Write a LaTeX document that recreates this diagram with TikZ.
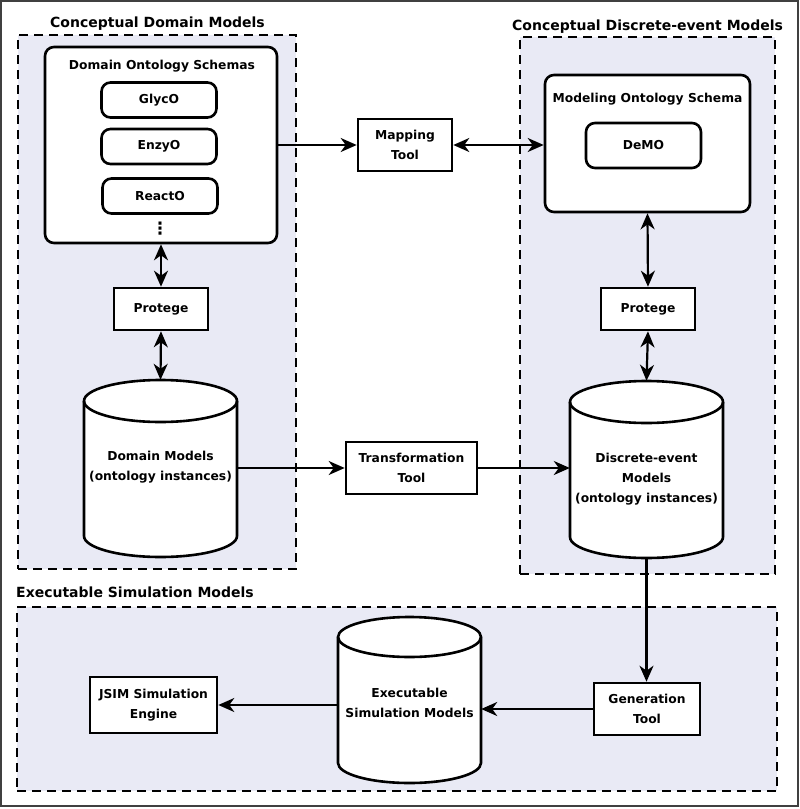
\documentclass[tikz,border=0pt]{standalone}
\usepackage{fontspec}
\setmainfont{DejaVu Sans}
\usetikzlibrary{arrows.meta}
\definecolor{panel}{RGB}{233,234,245}
\begin{document}
\begin{tikzpicture}[x=1pt,y=-1pt,
 panelbox/.style={draw=black, fill=panel, line width=2.4pt, dash pattern=on 9pt off 6pt, inner sep=0pt},
 title/.style={font=\fontsize{14}{16}\selectfont\bfseries, anchor=base west, inner sep=0pt},
 rbox/.style={draw=black, fill=white, line width=2.6pt, rounded corners=9pt, inner sep=0pt, font=\fontsize{12.3}{20}\selectfont\bfseries},
 sbox/.style={draw=black, fill=white, line width=2.6pt, inner sep=0pt, align=center, font=\fontsize{12.3}{20}\selectfont\bfseries},
 lbl/.style={align=center, font=\fontsize{12.3}{20}\selectfont\bfseries, inner sep=0pt},
 cylbody/.style={inner sep=0pt, draw=none},
 cylline/.style={draw=black, fill=white, line width=2.6pt},
 tip/.tip={Stealth[length=16pt,width=14pt,inset=5pt]},
 conn/.style={line width=2.2pt, -tip},
 biconn/.style={line width=2.2pt, tip-tip},
]
\path[use as bounding box] (0,0) rectangle (800,809);
\fill[white] (0,0) rectangle (800,809);
\draw[line width=1.5pt, black!75] (1,1) rectangle (798,806);

% panels
\node[panelbox, minimum width=278pt, minimum height=534pt] (cdm) at (157,302) {};
\node[panelbox, minimum width=255pt, minimum height=537pt] (cdem) at (647.5,305.5) {};
\node[panelbox, minimum width=760pt, minimum height=184pt] (esm) at (397,699) {};
\node[title] (t1) at (50,27) {Conceptual Domain Models};
\node[title] (t2) at (512,30) {Conceptual Discrete-event Models};
\node[title] (t3) at (16,597) {Executable Simulation Models};

% domain ontology schemas
\node[rbox, minimum width=232pt, minimum height=196pt] (dos) at (161,145) {};
\node[lbl] (dostitle) at (162,66) {Domain Ontology Schemas};
\node[rbox, minimum width=115pt, minimum height=35pt] (glyco) at (159,100) {GlycO};
\node[rbox, minimum width=115pt, minimum height=35pt] (enzyo) at (159,146.5) {EnzyO};
\node[rbox, minimum width=115pt, minimum height=35pt] (reacto) at (160,196) {ReactO};
\node[inner sep=0pt, font=\fontsize{17}{17}\selectfont\bfseries] (dots) at (160,229) {⋮};

% modeling ontology schema
\node[rbox, minimum width=205pt, minimum height=137pt] (mos) at (647.5,143.5) {};
\node[lbl] (mostitle) at (647.5,99) {Modeling Ontology Schema};
\node[rbox, minimum width=115pt, minimum height=45pt] (demo) at (643.5,145.5) {DeMO};

% tools
\node[sbox, minimum width=94pt, minimum height=52pt] (map) at (405,145) {Mapping\\Tool};
\node[sbox, minimum width=94pt, minimum height=42pt] (protL) at (161,309) {Protege};
\node[sbox, minimum width=94pt, minimum height=42pt] (protR) at (648,309) {Protege};
\node[sbox, minimum width=131pt, minimum height=52pt] (trans) at (411.5,468) {Transformation\\Tool};
\node[sbox, minimum width=106pt, minimum height=52pt] (gen) at (647,709) {Generation\\Tool};
\node[sbox, minimum width=127pt, minimum height=56pt] (jsim) at (153.5,705) {JSIM Simulation\\Engine};

% cylinders
\filldraw[cylline] (84,401) -- (84,536) arc[start angle=180,end angle=360,x radius=76.5pt,y radius=21pt] -- (237,401) arc[start angle=0,end angle=180,x radius=76.5pt,y radius=21pt] -- cycle;
\draw[cylline, fill=none] (84,401) arc[start angle=180,end angle=360,x radius=76.5pt,y radius=21pt];
\filldraw[cylline] (570,402) -- (570,537) arc[start angle=180,end angle=360,x radius=76.5pt,y radius=21pt] -- (723,402) arc[start angle=0,end angle=180,x radius=76.5pt,y radius=21pt] -- cycle;
\draw[cylline, fill=none] (570,402) arc[start angle=180,end angle=360,x radius=76.5pt,y radius=21pt];
\filldraw[cylline] (338,637) -- (338,763) arc[start angle=180,end angle=360,x radius=71.5pt,y radius=20pt] -- (481,637) arc[start angle=0,end angle=180,x radius=71.5pt,y radius=20pt] -- cycle;
\draw[cylline, fill=none] (338,637) arc[start angle=180,end angle=360,x radius=71.5pt,y radius=20pt];

\node[cylbody, minimum width=153pt, minimum height=177pt] (dm) at (160.5,468.5) {};
\node[cylbody, minimum width=153pt, minimum height=177pt] (ds) at (646.5,469.5) {};
\node[cylbody, minimum width=143pt, minimum height=166pt] (exe) at (409.5,700) {};
\node[lbl] (dmlbl) at (160.5,467) {Domain Models\\(ontology instances)};
\node[lbl] (dslbl) at (646.5,479) {Discrete-event\\Models\\(ontology instances)};
\node[lbl] (exelbl) at (409.5,703) {Executable\\Simulation Models};

% connectors
\draw[biconn] (dos.south) -- (protL.north);
\draw[biconn] (protL.south) -- (dm.north);
\draw[conn] (dos.east) -- (map.west);
\draw[biconn] (map.east) -- (map.east -| mos.west);
\draw[biconn] (mos.south) -- (protR.north);
\draw[biconn] (protR.south) -- (ds.north);
\draw[conn] (dm.east |- trans.west) -- (trans.west);
\draw[conn] (trans.east) -- (trans.east -| ds.west);
\draw[conn] (ds.south) -- (ds.south |- gen.north);
\draw[conn] (gen.west) -- (gen.west -| exe.east);
\draw[conn] (exe.west |- jsim.east) -- (jsim.east);
\end{tikzpicture}
\end{document}
